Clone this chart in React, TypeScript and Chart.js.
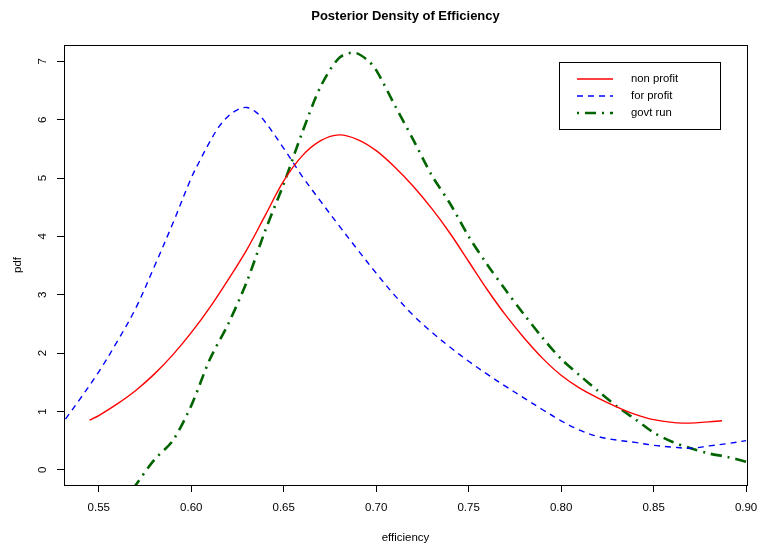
import React, { useEffect, useRef } from 'react';
import { Chart, registerables } from 'chart.js';

Chart.register(...registerables);

const nonProfitX = [0.545, 0.55, 0.56, 0.57, 0.58, 0.59, 0.60, 0.61, 0.62, 0.63, 0.64, 0.65, 0.66, 0.67, 0.68, 0.69, 0.70, 0.71, 0.72, 0.73, 0.74, 0.75, 0.76, 0.77, 0.78, 0.79, 0.80, 0.81, 0.82, 0.83, 0.84, 0.85, 0.866, 0.887];
const nonProfitY = [0.85, 0.93, 1.13, 1.36, 1.64, 1.97, 2.35, 2.78, 3.26, 3.77, 4.36, 4.95, 5.38, 5.64, 5.74, 5.66, 5.47, 5.19, 4.86, 4.48, 4.05, 3.57, 3.09, 2.65, 2.26, 1.91, 1.62, 1.40, 1.23, 1.08, 0.95, 0.86, 0.80, 0.84];

const forProfitX = [0.532, 0.54, 0.55, 0.56, 0.57, 0.58, 0.59, 0.60, 0.605, 0.61, 0.615, 0.62, 0.625, 0.63, 0.635, 0.64, 0.65, 0.66, 0.67, 0.68, 0.69, 0.70, 0.71, 0.72, 0.73, 0.74, 0.75, 0.76, 0.77, 0.78, 0.79, 0.80, 0.81, 0.82, 0.83, 0.84, 0.85, 0.86, 0.87, 0.88, 0.89, 0.90];
const forProfitY = [0.87, 1.22, 1.68, 2.20, 2.77, 3.48, 4.22, 5.00, 5.32, 5.62, 5.88, 6.06, 6.17, 6.21, 6.13, 5.96, 5.51, 5.03, 4.60, 4.18, 3.77, 3.37, 2.99, 2.65, 2.36, 2.10, 1.86, 1.64, 1.43, 1.23, 1.03, 0.84, 0.68, 0.57, 0.51, 0.47, 0.42, 0.39, 0.37, 0.41, 0.45, 0.50];

const govtRunX = [0.566, 0.57, 0.58, 0.59, 0.60, 0.61, 0.62, 0.63, 0.64, 0.65, 0.66, 0.67, 0.68, 0.688, 0.695, 0.70, 0.71, 0.72, 0.73, 0.74, 0.75, 0.76, 0.77, 0.78, 0.79, 0.80, 0.81, 0.82, 0.83, 0.84, 0.85, 0.86, 0.87, 0.88, 0.89, 0.90];
const govtRunY = [-0.44, -0.26, 0.17, 0.50, 1.10, 1.89, 2.50, 3.22, 4.10, 4.90, 5.78, 6.57, 7.06, 7.15, 7.03, 6.85, 6.25, 5.66, 5.05, 4.56, 4.00, 3.52, 3.08, 2.66, 2.26, 1.90, 1.62, 1.35, 1.09, 0.87, 0.64, 0.48, 0.37, 0.28, 0.22, 0.14];

const xTicks = [0.55, 0.6, 0.65, 0.7, 0.75, 0.8, 0.85, 0.9];
const yTicks = [0, 1, 2, 3, 4, 5, 6, 7];
const seriesLabels = ['non profit', 'for profit', 'govt run'];
const titleText = 'Posterior Density of Efficiency';
const xTitle = 'efficiency';
const yTitle = 'pdf';

const FONT = '"Liberation Sans", Arial, Helvetica, sans-serif';

const decorPlugin = {
  id: 'decor',
  afterDatasetsDraw(chart: any) {
    const { ctx, chartArea } = chart;
    const l = Math.round(chartArea.left) + 0.5;
    const t = Math.round(chartArea.top) + 0.5;
    const r = Math.round(chartArea.right) + 0.5;
    const b = Math.round(chartArea.bottom) + 0.5;
    ctx.save();
    ctx.strokeStyle = '#000';
    ctx.lineWidth = 1;
    ctx.setLineDash([]);
    ctx.strokeRect(l, t, r - l, b - t);

    // title
    ctx.fillStyle = '#000';
    ctx.font = `bold 13px ${FONT}`;
    ctx.textAlign = 'center';
    ctx.textBaseline = 'middle';
    ctx.fillText(titleText, (chartArea.left + chartArea.right) / 2, 16);

    // legend
    const lx = 559.5, ly = 62.5, lw = 161, lh = 67;
    ctx.fillStyle = '#fff';
    ctx.fillRect(lx, ly, lw, lh);
    ctx.strokeStyle = '#000';
    ctx.strokeRect(lx, ly, lw, lh);
    chart.data.datasets.forEach((ds: any, i: number) => {
      const y = 79 + i * 17;
      ctx.beginPath();
      ctx.strokeStyle = ds.borderColor;
      ctx.lineWidth = ds.borderWidth;
      ctx.setLineDash(ds.borderDash || []);
      ctx.moveTo(577, y);
      ctx.lineTo(613, y);
      ctx.stroke();
      ctx.setLineDash([]);
      ctx.fillStyle = '#000';
      ctx.font = `11.3px ${FONT}`;
      ctx.textAlign = 'left';
      ctx.textBaseline = 'middle';
      ctx.fillText(ds.label, 631, y);
    });
    ctx.restore();
  },
};

export default function App() {
  const ref = useRef<HTMLCanvasElement>(null);
  useEffect(() => {
    const canvas = ref.current;
    if (!canvas) return;
    const pts = (xs: number[], ys: number[]) => xs.map((x, i) => ({ x, y: ys[i] }));
    const chart = new Chart(canvas, {
      type: 'line',
      data: {
        datasets: [
          {
            label: seriesLabels[0],
            data: pts(nonProfitX, nonProfitY),
            borderColor: '#ff0000',
            borderWidth: 1.4,
            pointRadius: 0,
            tension: 0.35,
            fill: false,
          },
          {
            label: seriesLabels[1],
            data: pts(forProfitX, forProfitY),
            borderColor: '#0000ff',
            borderWidth: 1.4,
            borderDash: [6, 5],
            pointRadius: 0,
            tension: 0.35,
            fill: false,
          },
          {
            label: seriesLabels[2],
            data: pts(govtRunX, govtRunY),
            borderColor: '#006400',
            borderWidth: 2.6,
            borderDash: [2, 6, 11, 6],
            pointRadius: 0,
            tension: 0.3,
            fill: false,
          },
        ],
      } as any,
      options: {
        responsive: false,
        animation: false,
        events: [],
        layout: { padding: { top: 45, right: 10, bottom: 0, left: 0 } },
        plugins: {
          legend: { display: false },
          tooltip: { enabled: false },
          title: { display: false },
        },
        scales: {
          x: {
            type: 'linear',
            min: 0.5312,
            max: 0.9005,
            afterBuildTicks: (s: any) => {
              s.ticks = xTicks.map((v) => ({ value: v }));
            },
            afterFit: (s: any) => {
              s.height = 65;
              s.paddingLeft = 0;
              s.paddingRight = 0;
            },
            ticks: {
              autoSkip: false,
              maxRotation: 0,
              minRotation: 0,
              padding: 9,
              color: '#000',
              font: { family: FONT, size: 11.5 },
              callback: (v: any) => Number(v).toFixed(2),
            },
            grid: {
              drawOnChartArea: false,
              drawTicks: true,
              tickLength: 7,
              color: '#000',
              tickColor: '#000',
            },
            border: { display: false },
            title: {
              display: true,
              text: xTitle,
              color: '#000',
              font: { family: FONT, size: 11.5 },
              padding: { top: 0, bottom: 5 },
            },
          },
          y: {
            type: 'linear',
            min: -0.26,
            max: 7.28,
            afterBuildTicks: (s: any) => {
              s.ticks = yTicks.map((v) => ({ value: v }));
            },
            afterFit: (s: any) => {
              s.width = 64;
              s.paddingTop = 0;
              s.paddingBottom = 0;
            },
            ticks: {
              autoSkip: false,
              minRotation: 90,
              maxRotation: 90,
              crossAlign: 'center',
              padding: 11,
              color: '#000',
              font: { family: FONT, size: 11.5 },
              callback: (v: any) => String(v),
            },
            grid: {
              drawOnChartArea: false,
              drawTicks: true,
              tickLength: 7,
              color: '#000',
              tickColor: '#000',
            },
            border: { display: false },
            title: {
              display: true,
              text: yTitle,
              color: '#000',
              font: { family: FONT, size: 11.5 },
              padding: { top: 11, bottom: 0 },
            },
          },
        },
      } as any,
      plugins: [decorPlugin],
    });
    return () => chart.destroy();
  }, []);
  return (
    <div style={{ position: 'absolute', left: 0, top: 0, width: 757, height: 550, background: '#fff' }}>
      <canvas ref={ref} width={757} height={550} style={{ display: 'block' }} />
    </div>
  );
}
